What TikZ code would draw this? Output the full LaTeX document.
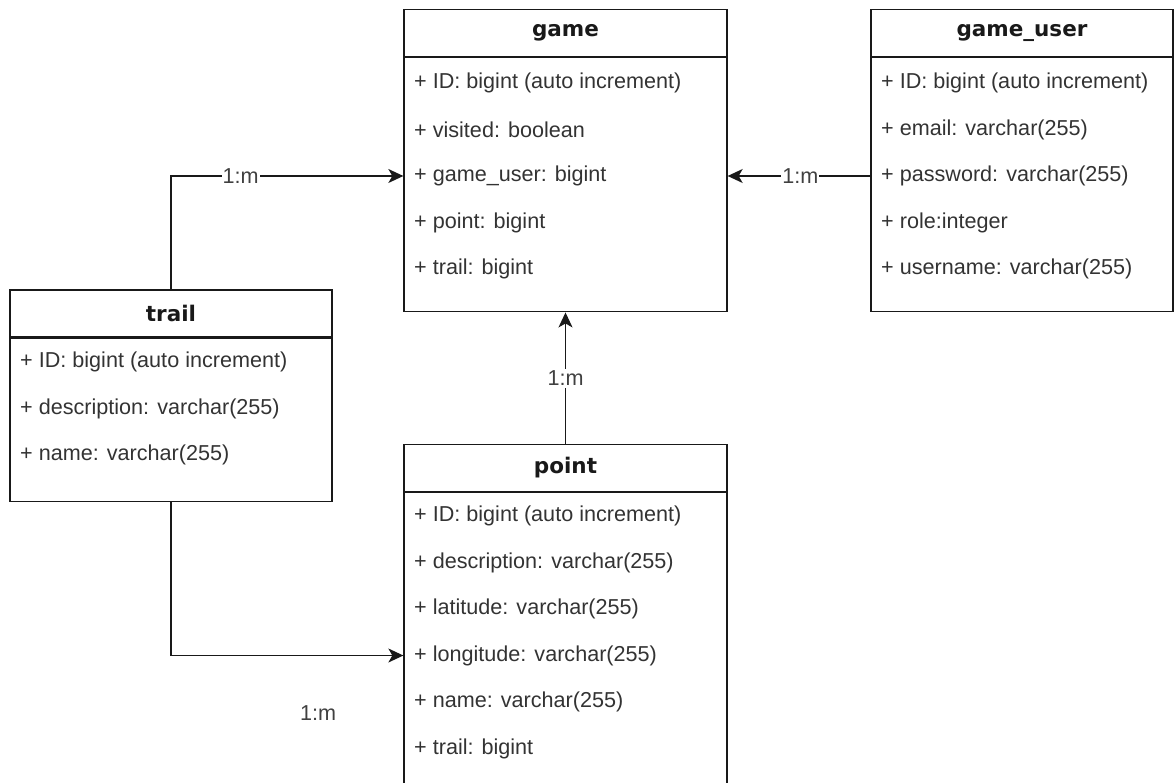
\documentclass[tikz,border=0pt]{standalone}
\usepackage{fontspec}
\setmainfont{Liberation Sans}
\newfontfamily\headfont{DejaVu Sans}
\usepackage{tikz}
\usetikzlibrary{arrows.meta}
\usetikzlibrary{positioning}
\tikzstyle{every node}+=[inner sep=0pt]
\tikzstyle{tblhead}=[draw=black!90, line width=1.3pt, minimum height=47pt, text=black!90, font=\headfont\bfseries\fontsize{21.5}{25}\selectfont]
\tikzstyle{tblbody}=[draw=black!90, line width=1.3pt, anchor=north]
\tikzstyle{field}=[anchor=west, text=black!80, font=\fontsize{21.6}{25}\selectfont]
\tikzstyle{card}=[fill=white, inner xsep=1pt, inner ysep=2pt, text=black!75, font=\fontsize{21.6}{25}\selectfont]
\tikzstyle{rel}=[draw=black!90, line width=1.3pt, -{Stealth[length=15pt,width=14pt,inset=4pt]}]

\begin{document}
\begin{tikzpicture}[x=1pt,y=-1pt]
        \useasboundingbox (0,0) rectangle (1174,783);
        \clip (0,0) rectangle (1174,783);
        \node[tblhead, minimum width=323pt] (game) at (565.5,33) {game};
        \node[tblbody, minimum width=323pt, minimum height=254pt] (gamebody) at (game.south) {};
        \foreach \txt [count=\i] in {{+ ID: bigint (auto increment)}, {+ visited: boolean}, {+ game\_user: bigint}, {+ point: bigint}, {+ trail: bigint}}
            \node[field] (game-\i) at (414,83+46.5*\i-46.5) {\txt};
        \node[tblhead, minimum width=302pt] (user) at (1022,33) {game\_user};
        \node[tblbody, minimum width=302pt, minimum height=254pt] (userbody) at (user.south) {};
        \foreach \txt [count=\i] in {{+ ID: bigint (auto increment)}, {+ email: varchar(255)}, {+ password: varchar(255)}, {+ role:integer}, {+ username: varchar(255)}}
            \node[field] (user-\i) at (881,83+46.5*\i-46.5) {\txt};
        \node[tblhead, minimum width=322pt] (trail) at (171,313.5) {trail};
        \node[tblbody, minimum width=322pt, minimum height=163pt] (trailbody) at (trail.south) {};
        \foreach \txt [count=\i] in {{+ ID: bigint (auto increment)}, {+ description: varchar(255)}, {+ name: varchar(255)}}
            \node[field] (trail-\i) at (20,362+46.5*\i-46.5) {\txt};
        \node[tblhead, minimum width=323pt] (point) at (565.5,468) {point};
        \node[tblbody, minimum width=323pt, minimum height=320pt] (pointbody) at (point.south) {};
        \foreach \txt [count=\i] in {{+ ID: bigint (auto increment)}, {+ description: varchar(255)}, {+ latitude: varchar(255)}, {+ longitude: varchar(255)}, {+ name: varchar(255)}, {+ trail: bigint}}
            \node[field] (point-\i) at (414,516+46.5*\i-46.5) {\txt};
        \draw[rel] (trail.north) |- node[card, pos=0.65] {1:m} (gamebody.west |- game-3);
        \draw[rel] (userbody.west |- user-3) -- node[card, pos=0.49] {1:m} (gamebody.east |- game-3);
        \draw[rel] (point.north) -- node[card] {1:m} (gamebody.south);
        \draw[rel] (trailbody.south) |- (pointbody.west |- point-4);
        \node[card] (trailcard) at (318,713) {1:m};
    \end{tikzpicture}
\end{document}
